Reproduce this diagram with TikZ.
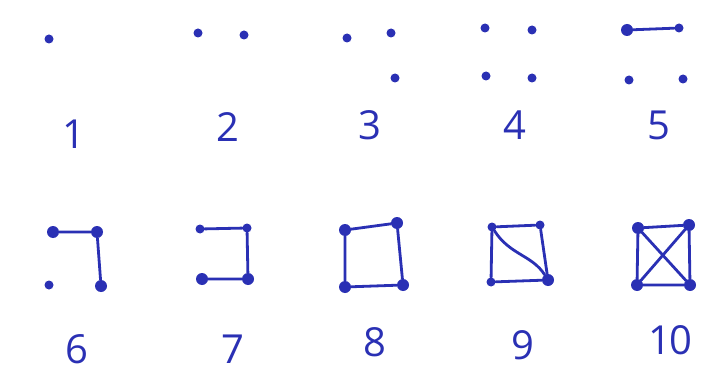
\documentclass[tikz,border=0pt]{standalone}
\usepackage{fontspec}
\setmainfont{Open Sans}
\usepackage{tikz}

\begin{document}
\begin{tikzpicture}[x=1pt,y=-1pt]

% Colore inchiostro
\definecolor{ink}{HTML}{2A30B4}

\tikzset{
  pt/.style={circle, fill=ink, inner sep=0pt, minimum size=9pt},
  bigpt/.style={circle, fill=ink, inner sep=0pt, minimum size=12pt},
  edge/.style={draw=ink, line width=2.8pt, line cap=round},
  num/.style={text=ink, font=\fontsize{40}{40}\selectfont}
}

\useasboundingbox[fill=white] (0,0) rectangle (719,374);

% Prima riga
% 1
\node[pt] (a1) at (49,39) {};
\node[num] (n1) at (74,134) {1};

% 2
\node[pt] (b1) at (198,33) {};
\node[pt] (b2) at (244,35) {};
\node[num] (n2) at (228,127) {2};

% 3
\node[pt] (c1) at (347,38) {};
\node[pt] (c2) at (391,33) {};
\node[pt] (c3) at (395,78) {};
\node[num] (n3) at (370,125) {3};

% 4
\node[pt] (d1) at (485,28) {};
\node[pt] (d2) at (532,30) {};
\node[pt] (d3) at (486,76) {};
\node[pt] (d4) at (532,78) {};
\node[num] (n4) at (515,125) {4};

% 5
\node[bigpt] (e1) at (627,30) {};
\node[pt] (e2) at (679,28) {};
\node[pt] (e3) at (629,80) {};
\node[pt] (e4) at (683,79) {};
\draw[edge] (e1) -- (e2);
\node[num] (n5) at (659,125) {5};

% Seconda riga
% 6
\node[bigpt] (f1) at (53,232) {};
\node[bigpt] (f2) at (97,232) {};
\node[pt] (f3) at (49,285) {};
\node[bigpt] (f4) at (101,286) {};
\draw[edge] (f1) -- (f2) -- (f4);
\node[num] (n6) at (77,349) {6};

% 7
\node[pt] (g1) at (200,229) {};
\node[pt] (g2) at (247,228) {};
\node[bigpt] (g3) at (202,279) {};
\node[bigpt] (g4) at (248,279) {};
\draw[edge] (g1) -- (g2) -- (g4) -- (g3);
\node[num] (n7) at (233,349) {7};

% 8
\node[bigpt] (h1) at (345,230) {};
\node[bigpt] (h2) at (397,223) {};
\node[bigpt] (h3) at (345,287) {};
\node[bigpt] (h4) at (403,285) {};
\draw[edge] (h1) -- (h2) -- (h4) -- (h3) -- (h1);
\node[num] (n8) at (375,342) {8};

% 9
\node[pt] (i1) at (492,227) {};
\node[pt] (i2) at (540,225) {};
\node[pt] (i3) at (491,282) {};
\node[bigpt] (i4) at (548,280) {};
\draw[edge] (i1) -- (i2) -- (i4) -- (i3) -- (i1);
\draw[edge] (i1) .. controls (510,255) and (532,255) .. (i4);
\node[num] (n9) at (523,345) {9};

% 10
\node[bigpt] (j1) at (638,228) {};
\node[bigpt] (j2) at (689,225) {};
\node[bigpt] (j3) at (637,285) {};
\node[bigpt] (j4) at (690,285) {};
\draw[edge] (j1) -- (j2) -- (j4) -- (j3) -- (j1);
\draw[edge] (j1) -- (j4);
\draw[edge] (j2) -- (j3);
\node[num, inner xsep=0pt] (n10) at (670,340) {1\kern-2pt0};

\end{tikzpicture}
\end{document}
